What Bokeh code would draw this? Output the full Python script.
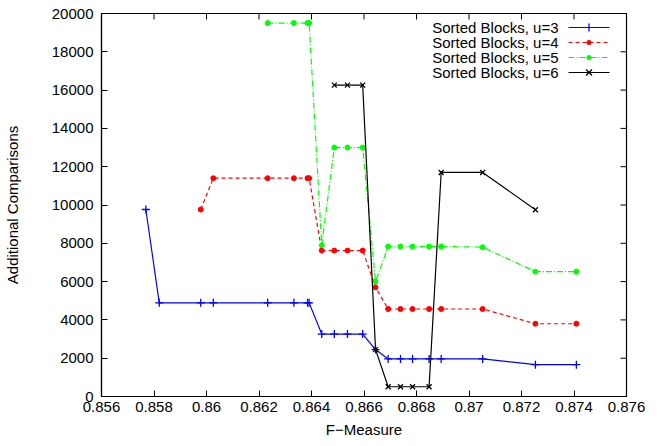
from bokeh.plotting import figure
from bokeh.models import (FixedTicker, CustomJSTickFormatter, Range1d,
                          Label, Arrow, BoxAnnotation)
from bokeh.embed import file_html
from bokeh.resources import INLINE

# ---- data ----
x_u3 = [0.85769, 0.85820, 0.85978, 0.86026, 0.86233, 0.86333, 0.86385, 0.86391, 0.86439,
        0.86487, 0.86537, 0.86595, 0.86644, 0.86692, 0.86739, 0.86785, 0.86848, 0.86894,
        0.87052, 0.87253, 0.87409]
y_u3 = [9765, 4890, 4890, 4890, 4890, 4890, 4890, 4890, 3260,
        3260, 3260, 3260, 2450, 1960, 1960, 1960, 1960, 1960,
        1960, 1660, 1660]

x_u4 = [0.85978, 0.86026, 0.86233, 0.86333, 0.86385, 0.86391, 0.86439,
        0.86487, 0.86537, 0.86595, 0.86644, 0.86692, 0.86739, 0.86785, 0.86848, 0.86894,
        0.87052, 0.87253, 0.87409]
y_u4 = [9765, 11400, 11400, 11400, 11400, 11400, 7620,
        7620, 7620, 7620, 5700, 4570, 4570, 4570, 4570, 4570,
        4570, 3800, 3800]

x_u5 = [0.86233, 0.86333, 0.86385, 0.86391, 0.86439,
        0.86487, 0.86537, 0.86595, 0.86644, 0.86692, 0.86739, 0.86785, 0.86848, 0.86894,
        0.87052, 0.87253, 0.87409]
y_u5 = [19500, 19500, 19500, 19500, 7900,
        13000, 13000, 13000, 6000, 7830, 7830, 7830, 7830, 7830,
        7800, 6520, 6520]

x_u6 = [0.86487, 0.86537, 0.86595, 0.86644, 0.86692, 0.86739, 0.86785, 0.86848, 0.86894,
        0.87052, 0.87253]
y_u6 = [16260, 16260, 16260, 2450, 510, 510, 510, 510, 11700,
        11700, 9750]

series_labels = ["Sorted Blocks, u=3", "Sorted Blocks, u=4",
                 "Sorted Blocks, u=5", "Sorted Blocks, u=6"]

x_ticks = [0.856, 0.858, 0.860, 0.862, 0.864, 0.866, 0.868, 0.870, 0.872, 0.874, 0.876]
y_ticks = [0, 2000, 4000, 6000, 8000, 10000, 12000, 14000, 16000, 18000, 20000]

X_MIN, X_MAX = 0.856, 0.876
Y_MIN, Y_MAX = 0, 20000

FONT = "Liberation Sans"
FS = "15px"
W, H = 671, 446
BL, BR, BT, BB = 99, 45, 13, 50

p = figure(width=W, height=H, output_backend="svg", toolbar_location=None,
           x_range=Range1d(X_MIN, X_MAX), y_range=Range1d(Y_MIN, Y_MAX),
           min_border_left=BL, min_border_right=BR, min_border_top=BT, min_border_bottom=BB)
p.background_fill_color = "white"
p.border_fill_color = "white"
p.grid.visible = False
p.outline_line_color = "#000000"
p.outline_line_width = 1.2

fmt = CustomJSTickFormatter(code="return String(parseFloat(tick.toFixed(3)));")

def style_axis(ax, ticks):
    ax.ticker = FixedTicker(ticks=ticks)
    ax.major_tick_in = 6
    ax.major_tick_out = 0
    ax.minor_tick_line_color = None
    ax.axis_line_color = "#000000"
    ax.axis_line_width = 1.2
    ax.major_tick_line_color = "#000000"
    ax.major_label_text_font = FONT
    ax.major_label_text_font_size = FS
    ax.major_label_text_color = "#000000"
    ax.axis_label_text_font = FONT
    ax.axis_label_text_font_size = FS
    ax.axis_label_text_font_style = "normal"
    ax.axis_label_text_color = "#000000"

style_axis(p.xaxis[0], x_ticks)
p.xaxis[0].formatter = fmt
p.xaxis[0].axis_label = "F\u2212Measure"
p.xaxis[0].major_label_standoff = 5
p.xaxis[0].axis_label_standoff = 6

style_axis(p.yaxis[0], y_ticks)
p.yaxis[0].axis_label = "Additional Comparisons"
p.yaxis[0].major_label_standoff = 8
p.yaxis[0].axis_label_standoff = 28

# mirrored ticks on top and right (6 px inward), like gnuplot's border tics
frame_w = W - BL - BR
frame_h = H - BT - BB
tick_dx = 6 * (X_MAX - X_MIN) / frame_w
tick_dy = 6 * (Y_MAX - Y_MIN) / frame_h
p.segment(x0=x_ticks, y0=[Y_MAX] * len(x_ticks), x1=x_ticks, y1=[Y_MAX - tick_dy] * len(x_ticks),
          line_color="#000000", line_width=1)
p.segment(x0=[X_MAX] * len(y_ticks), y0=y_ticks, x1=[X_MAX - tick_dx] * len(y_ticks), y1=y_ticks,
          line_color="#000000", line_width=1)

# ---- series ----
LW = 1.2
p.line(x_u3, y_u3, line_color="#0000ff", line_width=LW)
p.scatter(x_u3, y_u3, marker="cross", size=8, line_color="#0000ff", line_width=1.3)

p.line(x_u4, y_u4, line_color="#ff0000", line_width=LW, line_dash="4 3")
p.scatter(x_u4, y_u4, marker="circle", size=5, fill_color="#ff0000", line_color="#ff0000")

p.line(x_u5, y_u5, line_color="#00ff00", line_width=LW, line_dash="6 2 1 2")
p.scatter(x_u5, y_u5, marker="circle", size=5, fill_color="#00ff00", line_color="#00ff00")

p.line(x_u6, y_u6, line_color="#000000", line_width=LW)
p.scatter(x_u6, y_u6, marker="x", size=7, line_color="#000000", line_width=1.3)

# ---- manual gnuplot-style legend (screen units, relative to frame) ----
colors = ["#0000ff", "#ff0000", "#00ff00", "#000000"]
dashes = ["solid", "4 3", "6 2 1 2", "solid"]
markers = ["cross", "circle", "circle", "x"]
text_right = 457
row_y0 = 369
row_dy = 15
s0, s1 = 467, 508
mc = (s0 + s1) / 2
for i, lab in enumerate(series_labels):
    yy = row_y0 - i * row_dy
    p.add_layout(Label(x=text_right, y=yy, x_units="screen", y_units="screen", text=lab,
                       text_align="right", text_baseline="middle", text_font=FONT,
                       text_font_size=FS, text_color="#000000"))
    p.add_layout(Arrow(end=None, x_start=s0, y_start=yy, x_end=s1, y_end=yy,
                       start_units="screen", end_units="screen", line_color=colors[i],
                       line_width=LW, line_dash=dashes[i]))
    m = markers[i]
    if m == "circle":
        p.add_layout(BoxAnnotation(left=mc - 2.5, right=mc + 2.5, bottom=yy - 2.5, top=yy + 2.5,
                                   left_units="screen", right_units="screen",
                                   bottom_units="screen", top_units="screen",
                                   fill_color=colors[i], fill_alpha=1, line_color=None,
                                   border_radius=3))
    elif m == "cross":
        p.add_layout(Arrow(end=None, x_start=mc, y_start=yy - 4, x_end=mc, y_end=yy + 4,
                           start_units="screen", end_units="screen", line_color=colors[i],
                           line_width=1.3))
    else:
        p.add_layout(Arrow(end=None, x_start=mc - 3, y_start=yy - 3, x_end=mc + 3, y_end=yy + 3,
                           start_units="screen", end_units="screen", line_color=colors[i],
                           line_width=1.3))
        p.add_layout(Arrow(end=None, x_start=mc - 3, y_start=yy + 3, x_end=mc + 3, y_end=yy - 3,
                           start_units="screen", end_units="screen", line_color=colors[i],
                           line_width=1.3))

open("out.html", "w").write(file_html(p, INLINE))
